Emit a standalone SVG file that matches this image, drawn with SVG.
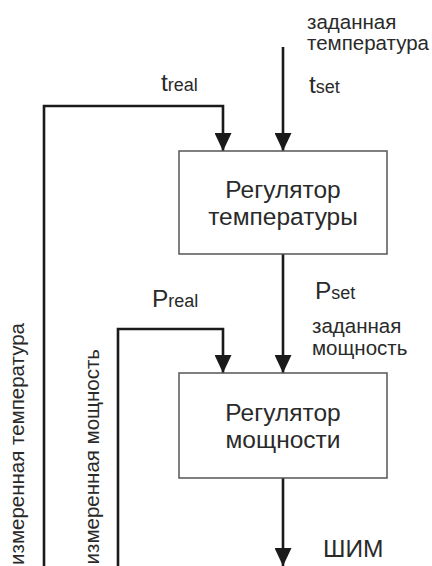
<svg xmlns="http://www.w3.org/2000/svg" width="432" height="566" viewBox="0 0 432 566">
<style>
text{font-family:"Liberation Sans",Arial,sans-serif;fill:#2a2a2a}
.box{fill:#fff;stroke:#555;stroke-width:1.5}
.bt{font-size:24.5px;text-anchor:middle}
.lb{font-size:20.5px}
.big{font-size:24.5px}
.sub{font-size:18px}
.wire{fill:none;stroke:#1a1a1a;stroke-width:2.6}
</style>
<defs>
<marker id="ah" viewBox="0 0 18 17" refX="18" refY="8.5" markerWidth="18" markerHeight="17" markerUnits="userSpaceOnUse" orient="auto">
<path d="M0,0 L18,8.5 L0,17 Z" fill="#1a1a1a"/>
</marker>
</defs>
<g id="connectors">
<path class="wire" d="M283,47 V151" marker-end="url(#ah)"/>
<path class="wire" d="M44,566 V106 H223 V151" marker-end="url(#ah)"/>
<path class="wire" d="M283,254 V373" marker-end="url(#ah)"/>
<path class="wire" d="M118,566 V329 H223 V373" marker-end="url(#ah)"/>
<path class="wire" d="M283,478 V566" marker-end="url(#ah)"/>
</g>
<g id="temp-regulator">
<rect class="box" x="179" y="151" width="208" height="103"/>
<text class="bt" x="283" y="198">Регулятор</text>
<text class="bt" x="283" y="225">температуры</text>
</g>
<g id="power-regulator">
<rect class="box" x="179" y="373" width="208" height="105"/>
<text class="bt" x="283" y="421">Регулятор</text>
<text class="bt" x="283" y="448">мощности</text>
</g>
<g id="labels">
<text class="lb" x="307" y="29">заданная</text>
<text class="lb" x="307" y="50">температура</text>
<text x="309" y="93"><tspan class="big">t</tspan><tspan class="sub">set</tspan></text>
<text x="161" y="91"><tspan class="big">t</tspan><tspan class="sub">real</tspan></text>
<text x="315" y="299"><tspan class="big">P</tspan><tspan class="sub">set</tspan></text>
<text x="152" y="307"><tspan class="big">P</tspan><tspan class="sub">real</tspan></text>
<text class="lb" x="312" y="333">заданная</text>
<text class="lb" x="312" y="355">мощность</text>
<text class="lb" transform="translate(24,323) rotate(-90)" text-anchor="end">измеренная температура</text>
<text class="lb" transform="translate(99,349) rotate(-90)" text-anchor="end">измеренная мощность</text>
<text class="big" x="323" y="557">ШИМ</text>
</g>
</svg>
